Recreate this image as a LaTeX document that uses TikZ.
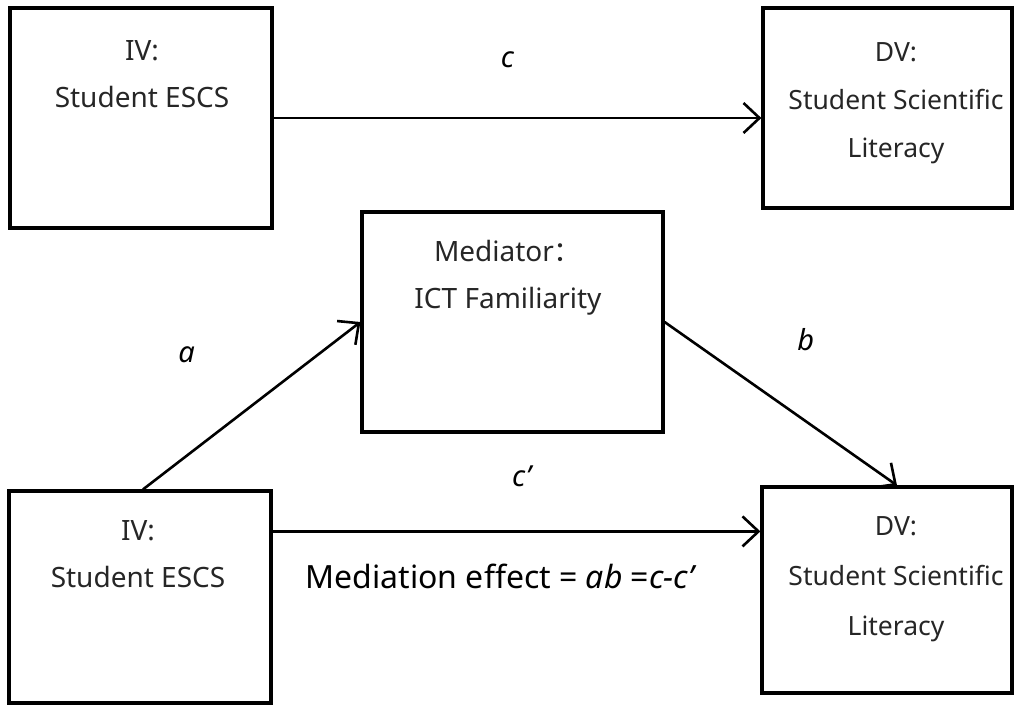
\documentclass[tikz,border=0pt]{standalone}
\usepackage{fontspec}
\setmainfont{Noto Sans}
\newfontfamily\cjk{Noto Sans CJK SC}
\usetikzlibrary{arrows.meta,positioning,calc}

\begin{document}
\begin{tikzpicture}[
    x=1pt, y=-1pt,
    box/.style={rectangle, draw, line width=3.2pt, inner sep=0pt},
    txt/.style={align=center, anchor=base, text=black!85, font=\fontsize{28}{47}\selectfont},
    lbl/.style={font=\fontsize{29}{34}\selectfont\itshape},
    note/.style={font=\fontsize{32}{38}\selectfont},
    arrow/.style={-{Straight Barb[length=16pt,width=30pt]}, line width=2.6pt}
]
\useasboundingbox (0,0) rectangle (1021,707);

% boxes
\node[box, minimum width=262pt, minimum height=220pt] (iv1) at (141,118) {};
\node[box, minimum width=249pt, minimum height=200pt] (dv1) at (887.5,108) {};
\node[box, minimum width=301pt, minimum height=220pt] (med) at (512.5,322) {};
\node[box, minimum width=262pt, minimum height=212pt] (iv2) at (140,597) {};
\node[box, minimum width=250pt, minimum height=206pt] (dv2) at (887,590) {};

% box texts (base = last line)
\node[txt] (iv1t) at (142,107) {IV:\\Student ESCS};
\node[txt, font=\fontsize{26.5}{48}\selectfont] (dv1t) at (896,157) {DV:\\Student Scientific\\Literacy};
\node[txt] (medt) at (508,308) {Mediator{\cjk ：}\\ICT Familiarity};
\node[txt] (iv2t) at (138,587) {IV:\\Student ESCS};
\node[txt, font=\fontsize{26.5}{50}\selectfont] (dv2t) at (896,635) {DV:\\Student Scientific\\Literacy};

% paths
\coordinate (cs) at ($(iv2.north east)+(0,42)$);
\draw[arrow] (iv1.east) -- node[lbl, midway, xshift=-10pt, yshift=58pt] (lc) {c} (iv1.east -| dv1.west);
\draw[arrow] ([xshift=3pt]iv2.north) -- node[lbl, midway, xshift=-65pt, yshift=51pt] (la) {a} (med.west);
\draw[arrow] (med.east) -- node[lbl, midway, xshift=25pt, yshift=64pt] (lb) {b} ([xshift=10pt]dv2.north);
\draw[arrow] (cs) -- node[lbl, midway, xshift=5pt, yshift=55pt] (lcp) {c'}
    node[note, midway, xshift=-15pt, yshift=-45pt] (leff) {Mediation effect = \textit{ab} =\textit{c-c'}} (cs -| dv2.west);

\end{tikzpicture}
\end{document}
